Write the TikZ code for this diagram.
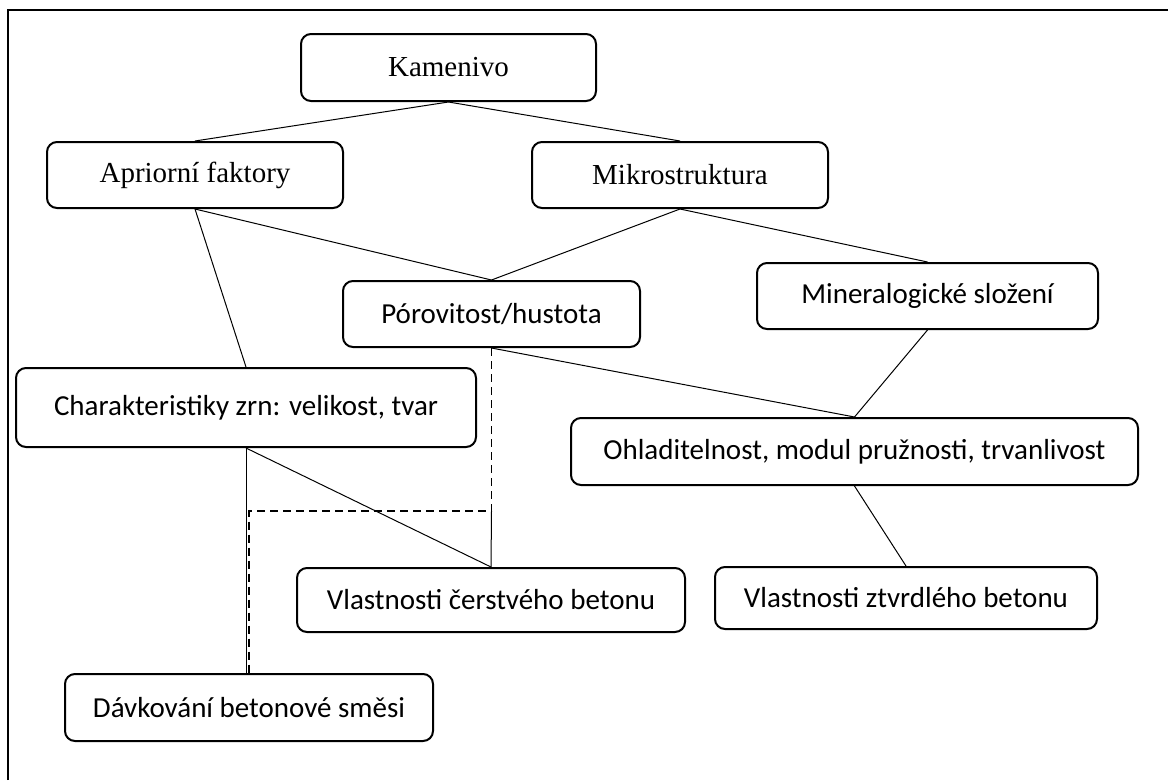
\documentclass[tikz,border=0pt]{standalone}
\usepackage{fontspec}
\setmainfont{Liberation Serif}
\newfontfamily\calfont{Carlito}
\begin{document}
\begin{tikzpicture}[x=1pt,y=-1pt,
  box/.style={draw, line width=2pt, rounded corners=10pt, inner sep=0pt, align=center},
  serifbox/.style={box, font=\fontsize{29}{34}\selectfont},
  sansbox/.style={box, font=\calfont\fontsize{29}{34}\selectfont},
  conn/.style={line width=1pt},
  dconn/.style={line width=1.3pt, dash pattern=on 8pt off 5pt}]
\useasboundingbox (0,0) rectangle (1168,780);
\draw[line width=2.5pt] (8,780) -- (8,10) -- (1168,10);
% nodes
\node[serifbox, minimum width=295pt, minimum height=67pt] (kam) at (448.5,67.5) {Kamenivo};
\node[serifbox, minimum width=296pt, minimum height=66pt] (apr) at (195,175) {Apriorní faktory};
\node[serifbox, minimum width=296pt, minimum height=66pt] (mik) at (680,175) {Mikrostruktura};
\node[sansbox, minimum width=297pt, minimum height=66pt] (por) at (491.5,314) {Pórovitost/hustota};
\node[sansbox, minimum width=341pt, minimum height=66pt] (min) at (927.5,296) {Mineralogické složení};
\node[sansbox, minimum width=460pt, minimum height=79pt] (cha) at (246,407.5) {\raisebox{5pt}{Charakteristiky zrn: velikost, tvar}};
\node[sansbox, minimum width=567pt, minimum height=67pt] (ohl) at (854.5,451.5) {Ohladitelnost, modul pružnosti, trvanlivost};
\node[sansbox, minimum width=388pt, minimum height=64pt] (cer) at (491,600) {Vlastnosti čerstvého betonu};
\node[sansbox, minimum width=382pt, minimum height=62pt] (ztv) at (906,598) {Vlastnosti ztvrdlého betonu};
\node[sansbox, minimum width=368pt, minimum height=67pt] (dav) at (249,707.5) {Dávkování betonové směsi};
% junction coordinates
\coordinate (jr) at (por.south |- 0,511);
\coordinate (jl) at (249,511);
% connectors
\draw[conn] (kam.south) -- (apr.north);
\draw[conn] (kam.south) -- (mik.north);
\draw[conn] (apr.south) -- (cha.north);
\draw[conn] (apr.south) -- (por.north);
\draw[conn] (mik.south) -- (por.north);
\draw[conn] (mik.south) -- (min.north);
\draw[conn] (por.south) -- (ohl.north);
\draw[conn] (min.south) -- (ohl.north);
\draw[conn] (ohl.south) -- (ztv.north);
\draw[conn] (cha.south) -- (cer.north);
\draw[conn] ([xshift=-3pt]dav.north) -- (cha.south);
\draw[conn] (jr) -- (cer.north);
\draw[dconn] (por.south) -- (jr) -- (jl) -- (dav.north);
\end{tikzpicture}
\end{document}
